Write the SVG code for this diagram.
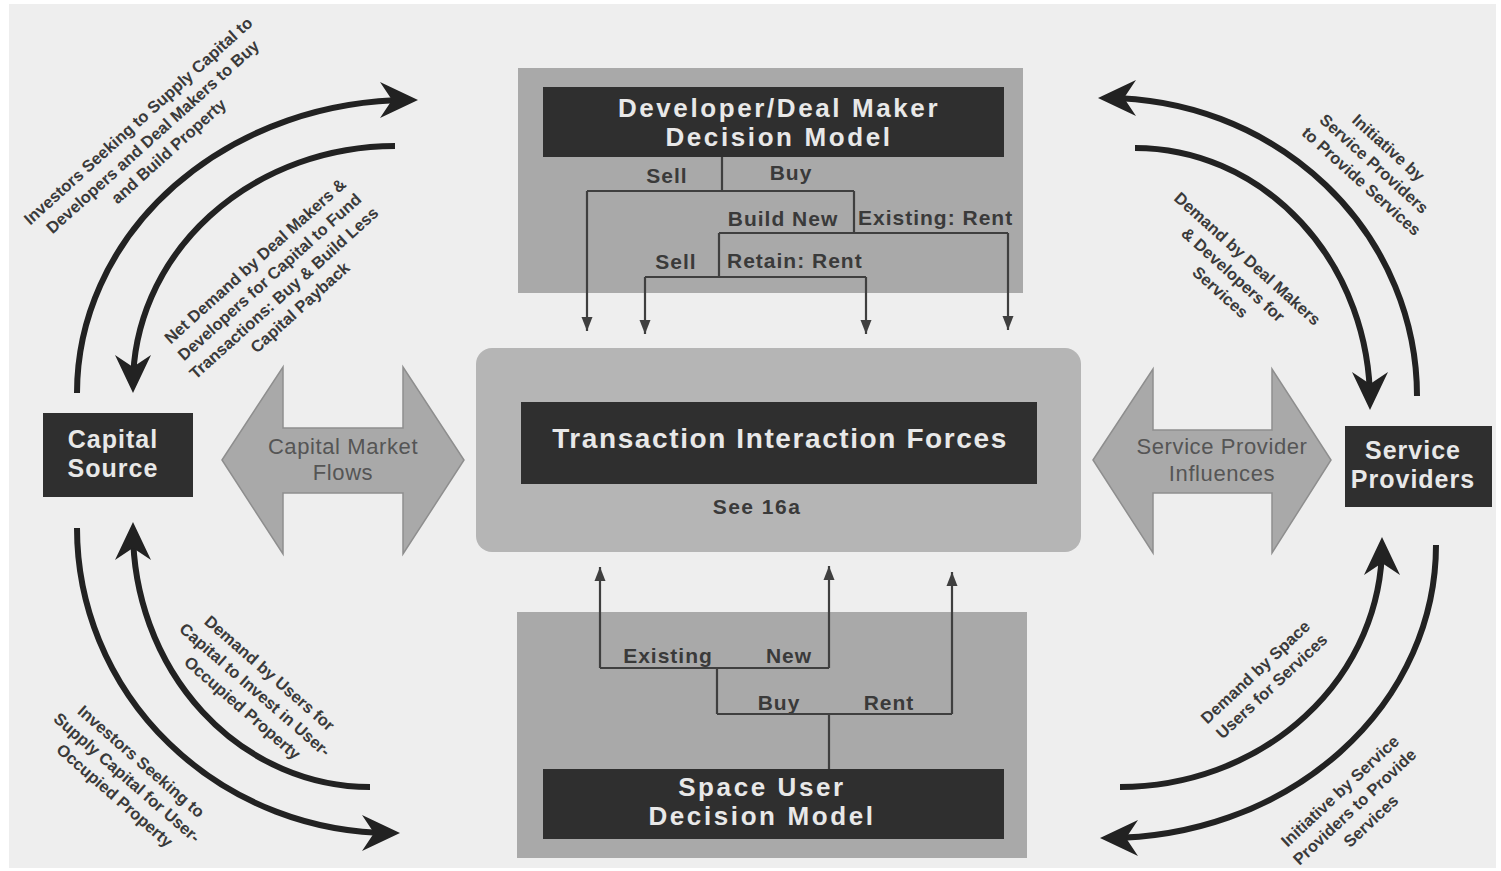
<svg xmlns="http://www.w3.org/2000/svg" width="1501" height="871" viewBox="0 0 1501 871">
  <style>
    .panel { fill: #a9a9a9; }
    .dark { fill: #2f2f2f; }
    .title { font-family: "Liberation Sans", Arial, sans-serif; font-weight: bold; fill: #e8e8e8; text-anchor: middle; }
    .branch { font-family: "Liberation Sans", Arial, sans-serif; font-weight: bold; font-size: 21px; letter-spacing: 1px; fill: #3a3a3a; }
    .flowtxt { font-family: "Liberation Sans", Arial, sans-serif; font-size: 22px; letter-spacing: 0.6px; fill: #555; text-anchor: middle; }
    .note { font-family: "Liberation Sans", Arial, sans-serif; font-weight: bold; font-size: 16.5px; fill: #3a3a3a; text-anchor: middle; }
    .tree { fill: none; stroke: #3f3f3f; stroke-width: 2.2; }
    .curve { fill: none; stroke: #222; stroke-width: 6; }
    .dbl { fill: #a9a9a9; stroke: #8e8e8e; stroke-width: 1.5; }
  </style>
  <defs>
    <marker id="bigHead" markerUnits="userSpaceOnUse" markerWidth="60" markerHeight="60" refX="-8" refY="0" orient="auto" overflow="visible" viewBox="-50 -30 60 60">
      <path d="M0,0 L-38,-18 L-26,0 L-38,18 Z" fill="#222"/>
    </marker>
    <marker id="smallHead" markerUnits="userSpaceOnUse" markerWidth="20" markerHeight="20" refX="0" refY="0" orient="auto" overflow="visible" viewBox="-20 -10 20 20">
      <path d="M0,0 L-14,-5.5 L-14,5.5 Z" fill="#3f3f3f"/>
    </marker>
  </defs>

  <!-- page -->
  <rect x="0" y="0" width="1501" height="871" fill="#ffffff"/>
  <rect x="9" y="4" width="1487" height="864" fill="#eeeeee"/>

  <!-- developer / deal maker decision model -->
  <g id="developer-model">
    <rect class="panel" x="518" y="68" width="505" height="225"/>
    <rect class="dark" x="543" y="87" width="461" height="70"/>
    <text class="title" font-size="26" letter-spacing="2.6" x="779" y="117">Developer/Deal Maker</text>
    <text class="title" font-size="26" letter-spacing="2.6" x="779" y="146">Decision Model</text>
    <text class="branch" x="667" y="183" text-anchor="middle">Sell</text>
    <text class="branch" x="791" y="180" text-anchor="middle">Buy</text>
    <text class="branch" x="783" y="226" text-anchor="middle">Build New</text>
    <text class="branch" x="858" y="225">Existing: Rent</text>
    <text class="branch" x="676" y="269" text-anchor="middle">Sell</text>
    <text class="branch" x="727" y="268">Retain: Rent</text>
  </g>

  <!-- transaction interaction forces -->
  <g id="transaction-forces">
    <rect x="476" y="348" width="605" height="204" rx="16" fill="#b5b5b5"/>
    <rect class="dark" x="521" y="402" width="516" height="82"/>
    <text class="title" font-size="28" letter-spacing="1.6" x="780" y="448">Transaction Interaction Forces</text>
    <text x="757" y="514" font-family="Liberation Sans, Arial, sans-serif" font-weight="bold" font-size="21" letter-spacing="1.5" fill="#3a3a3a" text-anchor="middle">See 16a</text>
  </g>

  <!-- space user decision model -->
  <g id="space-user-model">
    <rect class="panel" x="517" y="612" width="510" height="246"/>
    <rect class="dark" x="543" y="769" width="461" height="70"/>
    <text class="title" font-size="26" letter-spacing="2.6" x="762" y="796">Space User</text>
    <text class="title" font-size="26" letter-spacing="2.6" x="762" y="825">Decision Model</text>
    <text class="branch" x="668" y="663" text-anchor="middle">Existing</text>
    <text class="branch" x="789" y="663" text-anchor="middle">New</text>
    <text class="branch" x="779" y="710" text-anchor="middle">Buy</text>
    <text class="branch" x="889" y="710" text-anchor="middle">Rent</text>
  </g>

  <!-- capital source -->
  <g id="capital-source">
    <rect class="dark" x="43" y="413" width="150" height="84"/>
    <text class="title" font-size="25" letter-spacing="1" x="113" y="448">Capital</text>
    <text class="title" font-size="25" letter-spacing="1" x="113" y="477">Source</text>
  </g>

  <!-- service providers -->
  <g id="service-providers">
    <rect class="dark" x="1345" y="426" width="147" height="81"/>
    <text class="title" font-size="25" letter-spacing="1" x="1413" y="459">Service</text>
    <text class="title" font-size="25" letter-spacing="1" x="1413" y="488">Providers</text>
  </g>

  <!-- capital market flows -->
  <g id="capital-market-flows">
    <path class="dbl" d="M222,460 L283,367 L283,428 L403,428 L403,367 L464,460 L403,554 L403,493 L283,493 L283,554 Z"/>
    <text class="flowtxt" x="343" y="454">Capital Market</text>
    <text class="flowtxt" x="343" y="480">Flows</text>
  </g>

  <!-- service provider influences -->
  <g id="service-provider-influences">
    <path class="dbl" d="M1093,460 L1153,369 L1153,430 L1272,430 L1272,369 L1331,460 L1272,553 L1272,493 L1153,493 L1153,553 Z"/>
    <text class="flowtxt" x="1222" y="454">Service Provider</text>
    <text class="flowtxt" x="1222" y="481">Influences</text>
  </g>

  <!-- connectors -->
  <g id="connectors">
    <!-- developer decision tree -->
    <path class="tree" d="M722,157 V191 M587,191 H854 M854,191 V233 M719,233 H1008 M719,233 V277 M645,277 H866"/>
    <path class="tree" d="M587,191 V331" marker-end="url(#smallHead)"/>
    <path class="tree" d="M1008,233 V330" marker-end="url(#smallHead)"/>
    <path class="tree" d="M645,277 V334" marker-end="url(#smallHead)"/>
    <path class="tree" d="M866,277 V334" marker-end="url(#smallHead)"/>

    <!-- space user decision tree -->
    <path class="tree" d="M829,769 V714 M717,714 H952 M717,714 V668 M600,668 H829"/>
    <path class="tree" d="M600,668 V567" marker-end="url(#smallHead)"/>
    <path class="tree" d="M829,668 V566" marker-end="url(#smallHead)"/>
    <path class="tree" d="M952,714 V572" marker-end="url(#smallHead)"/>

    <!-- capital flows, upper left -->
    <path class="curve" d="M77,393 A333,293 0 0 1 410,100" marker-end="url(#bigHead)"/>
    <path class="curve" d="M395,146 A262,239 0 0 0 133,385" marker-end="url(#bigHead)"/>
    <!-- service flows, upper right -->
    <path class="curve" d="M1417,396 A311,298 0 0 0 1106,98" marker-end="url(#bigHead)"/>
    <path class="curve" d="M1135,148 A235,254 0 0 1 1370,402" marker-end="url(#bigHead)"/>
    <!-- capital flows, lower left -->
    <path class="curve" d="M370,787 A237,257 0 0 1 133,530" marker-end="url(#bigHead)"/>
    <path class="curve" d="M77,528 A315,305 0 0 0 392,833" marker-end="url(#bigHead)"/>
    <!-- service flows, lower right -->
    <path class="curve" d="M1120,787 A262,242 0 0 0 1382,545" marker-end="url(#bigHead)"/>
    <path class="curve" d="M1436,545 A328,293 0 0 1 1108,838" marker-end="url(#bigHead)"/>
  </g>

  <!-- flow labels -->
  <g id="flow-labels">
    <text class="note" transform="translate(154,135) rotate(-42)">
      <tspan x="0" y="-15.5">Investors Seeking to Supply Capital to</tspan>
      <tspan x="0" y="6">Developers and Deal Makers to Buy</tspan>
      <tspan x="0" y="27.5">and Build Property</tspan>
    </text>
    <text class="note" transform="translate(278,283) rotate(-42)">
      <tspan x="0" y="-26">Net Demand by Deal Makers &amp;</tspan>
      <tspan x="0" y="-4.5">Developers for Capital to Fund</tspan>
      <tspan x="0" y="17">Transactions: Buy &amp; Build Less</tspan>
      <tspan x="0" y="38.5">Capital Payback</tspan>
    </text>
    <text class="note" transform="translate(1376,165) rotate(42)">
      <tspan x="0" y="-15.5">Initiative by</tspan>
      <tspan x="0" y="6">Service Providers</tspan>
      <tspan x="0" y="27.5">to Provide Services</tspan>
    </text>
    <text class="note" transform="translate(1235,276) rotate(42)">
      <tspan x="0" y="-15.5">Demand by Deal Makers</tspan>
      <tspan x="0" y="6">&amp; Developers for</tspan>
      <tspan x="0" y="27.5">Services</tspan>
    </text>
    <text class="note" transform="translate(257,691) rotate(41)">
      <tspan x="0" y="-16">Demand by Users for</tspan>
      <tspan x="0" y="6">Capital to Invest in User-</tspan>
      <tspan x="0" y="28">Occupied Property</tspan>
    </text>
    <text class="note" transform="translate(129,779) rotate(41)">
      <tspan x="0" y="-15.5">Investors Seeking to</tspan>
      <tspan x="0" y="6">Supply Capital for User-</tspan>
      <tspan x="0" y="27.5">Occupied Property</tspan>
    </text>
    <text class="note" transform="translate(1264,678) rotate(-43)">
      <tspan x="0" y="-4.5">Demand by Space</tspan>
      <tspan x="0" y="17">Users for Services</tspan>
    </text>
    <text class="note" transform="translate(1356,805) rotate(-43)">
      <tspan x="0" y="-15.5">Initiative by Service</tspan>
      <tspan x="0" y="6">Providers to Provide</tspan>
      <tspan x="0" y="27.5">Services</tspan>
    </text>
  </g>
</svg>
